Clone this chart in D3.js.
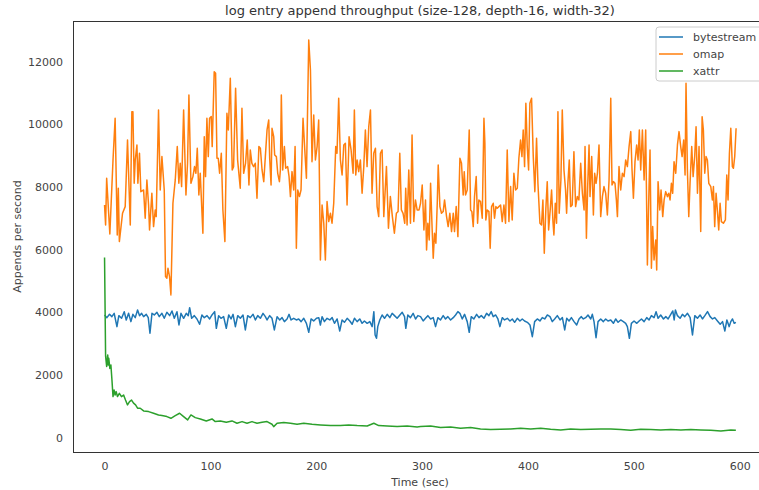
<!DOCTYPE html>
<html>
<head>
<meta charset="utf-8">
<script src="https://cdn.jsdelivr.net/npm/d3@7"></script>
<style>
  html, body { margin: 0; padding: 0; background: #fff; }
  svg { display: block; font-family: "DejaVu Sans", sans-serif; }
</style>
</head>
<body>
<div id="app"></div>
<script>
// [time (sec), appends per second]
const bytestream = [
  [0,3914],[2.2,3829],[4.7,3935],[6.9,3861],[9.1,3967],[11.7,3542],[13.5,3893],[16.1,3808],[18.6,4020],[20.5,3755],
  [22.7,3967],[24.9,3702],[26.8,3935],[29,3829],[31.2,4074],[33.1,3893],[35,3967],[36.9,3861],[39.4,3935],[41.3,3829],
  [42.9,3330],[44.8,3967],[47,3914],[49.5,3999],[51.7,3861],[54.2,3967],[56.4,3808],[58.9,3999],[61.5,3893],[63.7,4042],
  [65.9,3808],[68.4,4020],[70.3,3595],[72.2,3967],[74.7,3808],[77.2,3967],[79.1,3893],[80.4,4148],[82.3,3808],[84.8,3893],
  [87.3,3787],[89.8,3617],[92,3914],[94.2,3829],[96.8,3893],[99.3,3787],[101.5,3914],[104,4020],[105.6,3489],[107.8,3893],
  [110,3808],[112.5,3861],[115,3489],[117.3,3914],[119.5,3787],[121.4,3935],[123.6,3542],[125.8,3893],[128.3,3808],
  [130.8,3914],[133,3436],[135.2,3893],[137.7,3829],[140.3,3935],[142.5,3755],[144.7,3893],[147.2,3808],[149.7,3967],
  [151.9,3861],[153.5,3755],[156,3893],[158.2,3808],[160.4,3436],[163,3861],[165.5,3755],[167.7,3829],[169.9,3702],
  [172.4,3787],[174.3,3935],[176.2,3755],[178.7,3808],[181.2,3755],[183.4,3787],[185.7,3702],[188.2,3808],[190.7,3648],
  [192.9,3362],[195.1,3787],[197.6,3723],[200.2,3808],[202.4,3829],[203.9,3595],[205.5,3861],[207.7,3702],[210.2,3808],
  [212.8,3755],[215,3829],[217.2,3648],[219.7,3787],[222.2,3404],[224.4,3755],[226.6,3680],[229.2,3808],[231.7,3723],
  [233.9,3617],[236.1,3808],[238.6,3702],[241.1,3787],[243.3,3648],[245.5,3723],[248.1,3648],[250.6,3702],[252.8,3542],
  [254.4,4020],[255.6,3276],[256.9,3170],[258.1,3542],[260,3755],[262.2,3914],[264.5,3808],[267,3935],[269.5,3829],
  [271.7,3967],[273.9,3893],[276.4,3808],[279,3914],[281.2,3999],[283.4,3861],[284.6,3489],[286.5,3914],[289,3829],
  [291.5,3967],[293.8,3787],[296,3893],
  [298.5,3861],[301,3723],[303.2,3808],[305.4,3893],[308,3787],[310.5,3829],[312.7,3542],[314.9,3829],[317.4,3755],
  [319.9,3893],[322.1,3787],[324.3,3861],[326.9,3755],[329.4,3829],[331.6,3914],[333.8,4020],[335.7,3967],[337.9,3787],
  [340.1,3935],[342.6,3702],[344.5,3362],[346.4,3861],[348.9,3787],[351.5,3935],[353.7,3829],[355.9,3893],[358.4,3808],
  [360.9,3967],[363.1,3893],[365.3,4020],[367.2,3861],[369.4,3914],[371.6,3787],[373.5,3542],[375.7,3829],[377.9,3755],
  [380.5,3808],[383,3723],[385.2,3787],[387.4,3680],[389.9,3808],[392.4,3723],[394.6,3787],[396.8,3723],[399.4,3680],
  [401.9,3595],[404.1,3223],[406.3,3702],[408.8,3787],[411.3,3723],[413.5,3829],[415.8,3787],[418.3,3914],[420.8,3861],
  [423,3702],[425.2,3787],[427.7,3893],[430.3,3755],[432.5,3829],[434.7,3436],[436.6,3808],[438.8,3723],[441,3829],
  [443.5,3702],[446,3595],[448.2,3787],[450.4,3861],[452.3,3787],[454.5,3829],[456.7,3914],[459.3,3787],[460.8,3935],
  [462.4,3702],[464.3,3191],[466.2,3702],[468.7,3787],[471.2,3702],[473.4,3787],[475.6,3723],[478.2,3755],[480.7,3648],
  [482.9,3787],[485.1,3680],[487.6,3755],[490.1,3702],[492.3,3648],[493.9,3542],[495.8,3170],[497.7,3648],[500.2,3723],
  [502.8,3648],[505,3723],[507.2,3787],[509.7,3702],[512.2,3829],[514.4,3755],[516.6,3893],[519.1,3829],[521,4020],
  [522.9,3808],[525.4,3914],[528,3787],[530.2,3861],[532.4,3787],[534.9,3935],[536.8,4042],[538.1,3755],[539.3,4074],
  [541.2,3893],[543.7,3808],[545.9,3935],[548.1,3861],[550.7,3967],[553.2,3829],[555.4,3276],[557.6,3893],[560.1,3808],
  [562.6,3914],[564.8,3787],[567.1,3893],[569.6,4020],[572.1,3861],[574.3,3787],[576.5,3829],[579,3723],[581.6,3617],
  [583.8,3702],[586,3404],[587.9,3755],[590.1,3542],[591.6,3702],[593.2,3787],[594.8,3648],[596.4,3680]
]

const omap = [
  [0,7424],[1,6787],[2,8275],[5,6499],[8,8859],[10,10188],[12,6468],[13,7956],[14,6255],[17,7158],[19.5,7371],[21.7,9497],
  [24.3,6787],[25.8,10401],[26.8,10401],[28,8115],[29,8859],[30.6,9338],[31.5,8115],[33,9072],[34.3,7849],[36.9,7902],
  [38.4,6999],[40,8222],[41.6,7424],[42.5,6627],[44.7,7796],[46.3,6733],[47.9,7265],[48.8,7052],[51,10454],[52.6,7902],
  [54.2,8966],[56.4,7902],[57.6,5139],[58.9,5086],[59.9,5405],[61.4,5139],[62.7,4554],[64.6,7477],[66.8,8222],[68.7,9285],
  [70.2,8115],[71.5,8753],[72.8,8009],[74.7,10454],[76.9,7743],[78.4,8753],[79.7,10932],[81.6,8115],[83.5,8328],[85,8647],
  [86.3,8434],[87.6,9231],[89.1,7743],[90.4,8434],[92.9,6521],[94.2,9603],[95.4,8328],[96.7,10188],[98,8966],[99.2,10188],
  [100.8,10241],[101.7,9285],[103.6,11676],[104.9,11623],[106.2,8912],[107.4,8912],[108.7,8434],[110.3,9072],[111.8,7265],
  [113.7,6255],[115.6,10348],[116.9,9816],[118.8,11464],[120.6,8540],[121.9,8647],[123.8,11145],[125.7,8859],[128.2,7956],
  [129.8,10507],[131.4,8434],[133.2,8753],[134.8,9497],[136.4,8062],[137.7,9178],[139.2,8753],[140.8,8647],[142.4,8753],
  [144,7637],[145.8,9285],
  [147.2,9231],[148.8,8540],[150.4,8168],[151.9,8966],[153.5,9816],[155.1,10135],[156,8912],[157.3,8062],[158.2,9869],
  [159.8,9603],[160.7,9019],[162.3,8966],[163.6,8434],[165.2,8168],[166.1,8540],[167,10932],[168.3,8540],[169.9,9285],
  [171.1,8594],[173,8647],[174.3,8328],[175.6,7690],[177.1,8487],[178.7,7902],[180,9285],[181.2,6042],[182.5,7902],
  [184.1,7690],[185.6,7902],[187.5,10188],[188.8,9391],[190.7,8275],[192.9,12686],[194.5,11729],[196,8806],[197.6,10294],
  [199.2,8859],[200.8,9285],[202.3,10135],[203.9,5670],[205.5,7424],[207.1,6840],[208.6,5670],[210.2,7531],[211.8,6893],
  [213.4,7158],[214.9,6840],[216.5,7477],[218.4,9285],[219.6,9072],[221.2,10826],[222.8,8859],[224.4,8381],[226,9338],
  [227.5,9391],[229.1,7424],[231,9603],[232.9,9178],[234.8,8434],[236,10454],[237.3,8381],[238.6,8859],[240.1,8487],
  [241.7,8859],[243.3,7796],[244.9,8647],[246.4,9816],[248,8647],[249.6,9922],[251.2,10454],[252.7,7796],[254.3,9072],
  [255.9,9231],[257.5,7371],[259,7052],[260.6,9072],[262.2,9178],[263.8,7052],[266.3,8647],[268.2,6680],[270,7690],
  [271.9,7052],[273.8,6521],[275.7,7158],[277.3,7212],[278.9,9072],[280.4,7265],[282,7158],[283.6,6840],[284.5,7956],
  [285.8,6787],[287.4,8540],[289,6840],[290.5,9657],[292.1,6893],[293.7,7584],[295.3,7265],[297.1,7265],
  [298.5,7477],[300.1,8062],[301.7,6627],[303.2,7584],[304.2,5989],[305.4,6840],[306.7,6308],[308,8115],[309.5,6627],
  [310.5,5723],[311.7,6521],[313,6202],[314.3,7477],[315.2,8700],[316.8,7371],[318.3,7158],[319.9,7212],[321.2,7584],
  [323.1,7052],[324.6,6733],[326.2,7158],[327.8,6574],[329.4,7158],[330.6,6574],[332.2,7371],[333.8,6414],[335.7,8912],
  [337.2,8753],[338.8,7743],[339.8,8487],[341,7743],[342.6,7902],[344.5,9816],[345.8,7265],[347,7212],[348.3,6733],
  [349.5,7690],[351.1,8328],[352.4,6840],[353.6,7584],[355.2,7531],[356.8,6999],[358.4,10188],[359.3,9391],[360.2,6946],
  [361.5,7265],[363.1,7212],[364.3,6042],[365.6,7371],[367.2,7477],[368.4,6999],[369.7,7371],[371,7318],[372.5,7371],
  [374.1,7424],[375.7,6893],[377.3,7424],[378.8,6840],[380.4,9178],[382,6893],[383.6,8009],[385.1,6946],[386.7,8434],
  [388.3,7902],[389.9,7956],[391.4,8912],[393,9497],[394.3,8966],[395.5,9816],[396.8,8647],[398,10666],[399.3,9285],
  [400.6,8540],[401.8,10666],[403.4,10826],[405,8966],[406.5,7849],[408.1,9550],[409.4,8115],[411.3,6840],[412.8,6787],
  [414.1,7584],[415.4,5883],[416.9,7318],[418.2,8168],[419.5,6627],[421,7265],[422.3,7902],[423.6,6893],[424.5,6468],
  [425.8,7477],[427,6840],[428.3,10401],[429.5,7158],[431.1,8222],[432.4,10454],[434,8540],[435.5,7902],[436.5,7158],
  [437.7,8115],[439,8859],[440.3,7371],[441.8,7424],[443.4,9125],[445,7371],[446.6,7690],[448.1,7584],
  [449.8,8753],[451.4,7796],[453,7265],[453.9,9285],[455.2,6361],[456.4,8009],[457.7,9338],[458.6,7690],[460.2,8966],
  [461.8,7105],[463,8434],[464.3,8115],[465.6,8434],[467.1,9338],[468.7,7052],[470.3,7690],[471.8,8009],[473.4,7796],
  [475,7105],[476.6,8222],[478.2,10826],[479.4,8062],[480.7,8168],[482.2,8115],[483.5,7584],[484.5,7052],[486,8647],
  [487.6,7902],[489.2,8434],[490.8,8328],[492.3,8859],[493.9,8647],[495.5,9285],[497.1,9763],[498.3,8540],[499.6,7637],
  [501.1,8806],[502.7,9338],[504,8859],[505.2,9816],[506.5,8540],[508.1,9816],[509.7,8222],[511.2,9816],[512.8,5511],
  [514.4,8062],[515.3,9178],[516.6,5405],[517.8,6733],[519.1,5670],[520.7,6308],[521.6,5351],[522.9,8168],[524.5,7265],
  [525.7,7902],[527.3,7052],[528.6,7584],[530.1,7849],[531.7,7690],[533,7796],[534.2,7584],[535.5,8115],[536.7,7796],
  [538,8806],[539.6,8434],[541.2,9338],[542.7,9763],[544.3,9285],[545.6,8966],[547.1,9497],[548.4,8381],[549.3,11304],
  [550.6,8540],[551.9,7052],[553.1,8115],[554.7,9285],[556,8328],[557.5,8966],[558.8,9922],[560.1,7796],[561.6,9285],
  [563.2,6574],[564.5,10241],[565.7,9816],[567,8434],[568.2,8966],[569.5,8859],[570.8,8115],[572.7,8009],[574.2,7584],
  [575.2,8009],[576.4,6733],[577.7,7796],[579,7212],[580.2,6627],[581.5,7477],[582.7,6893],[584.6,6840],[586.5,6946],
  [587.8,8381],[589,7584],[590.3,9072],[591.6,9869],[593.1,8647],[594.1,8594],[595.3,8966],[596.6,9869]
]

const xattr = [
  [0,5750],[1,2600],[2,2270],[3,2640],[3.5,2320],[4,2530],[5,2210],[6,2320],[7,1842],[8,1310],[9,1520],[10,1360],
  [11,1470],[12.2,1310],[14,1415],[16,1310],[18,1360],[19.8,1200],[21.7,1045],[23.6,1150],[25.5,1200],[27.4,1100],
  [29.3,1045],[31.2,940],[33.7,938],[36.9,853],[41.6,832],[46.3,778],[51,725],[54.2,704],[58.9,672],[62.7,619],
  [66.8,704],[70.9,778],[74.7,672],[78.5,566],[81.6,725],[85.7,640],[90.5,598],[96.1,534],[101.5,598],[104.6,513],
  [109.4,534],[115,491],[120.4,534],[125.1,459],[129.9,513],[134.6,459],[139.3,513],[144,459],[148.8,491],[153.5,513],
  [158.2,428],[159.8,353],[163,459],[169.3,481],[175.6,459],[181.9,428],[188.2,459],[196,428],[204,406],[213.4,385],
  [222.8,385],[230.7,406],[238.6,385],[248.1,374],[254.4,459],[259,385],[267,374],[276.4,353],[285.9,374],[295.3,343],
  [298.5,353],[308,374],[317.4,321],[326.9,343],[336.3,300],[345.8,321],[355.2,279],[364.7,258],[374.1,268],[383.6,279],
  [393.1,300],[402.5,279],[412,300],[421.4,268],[430.9,247],[440.3,279],[449.8,258],[459.3,268],[468.7,279],[478.2,279],
  [487.6,258],[497.1,236],[506.5,268],[516,258],[525.4,247],[534.9,258],[544.4,247],[553.8,258],[563.3,247],[572.7,236],
  [582.2,215],[591.6,247],[596.4,236]
]

const seriesNames = ['bytestream', 'omap', 'xattr']
const seriesColors = ['#1f77b4', '#ff7f0e', '#2ca02c']
const xTicks = [0, 100, 200, 300, 400, 500, 600]
const yTicks = [0, 2000, 4000, 6000, 8000, 10000, 12000]

const width = 759, height = 490
const margin = {top: 21, right: -8, bottom: 38, left: 73}   // right spine falls just outside the picture

const svg = d3.select('#app').append('svg')
    .attr('width', width)
    .attr('height', height)

const x = d3.scaleLinear()
    .domain([-29.8, 625.8])
    .range([margin.left, width - margin.right])
const y = d3.scaleLinear()
    .domain([-457, 13292])
    .range([height - margin.bottom, margin.top])

svg.append('clipPath').attr('id', 'plot-clip')
    .append('rect')
    .attr('x', margin.left).attr('y', margin.top)
    .attr('width', x.range()[1] - margin.left)
    .attr('height', y.range()[0] - margin.top)

const line = d3.line()
    .x(d => x(d[0]))
    .y(d => y(d[1]))

svg.append('g')
    .attr('clip-path', 'url(#plot-clip)')
    .selectAll('path')
    .data([bytestream, omap, xattr])
    .join('path')
    .attr('d', line)
    .attr('fill', 'none')
    .attr('stroke', (d, i) => seriesColors[i])
    .attr('stroke-width', 1.5)
    .attr('stroke-linejoin', 'round')

// axes: labels only, no tick marks
const xAxis = svg.append('g')
    .attr('transform', `translate(0,${y.range()[0]})`)
    .call(d3.axisBottom(x).tickValues(xTicks).tickSize(0).tickPadding(10))
const yAxis = svg.append('g')
    .attr('transform', `translate(${margin.left},0)`)
    .call(d3.axisLeft(y).tickValues(yTicks).tickSize(0).tickPadding(10).tickFormat(d3.format('d')))

for (const ax of [xAxis, yAxis]) {
    ax.select('.domain').remove()
    ax.selectAll('text')
        .attr('fill', '#444')
        .attr('font-size', 11)
        .attr('font-family', '"DejaVu Sans", sans-serif')
}

// frame
svg.append('rect')
    .attr('x', margin.left).attr('y', margin.top)
    .attr('width', x.range()[1] - margin.left)
    .attr('height', y.range()[0] - margin.top)
    .attr('fill', 'none')
    .attr('stroke', '#333')
    .attr('stroke-width', 1)
    .attr('shape-rendering', 'crispEdges')

svg.append('text')
    .attr('x', 420).attr('y', 15)
    .attr('text-anchor', 'middle')
    .attr('font-size', 13)
    .attr('fill', '#333')
    .text('log entry append throughput (size-128, depth-16, width-32)')

svg.append('text')
    .attr('x', 420).attr('y', 486)
    .attr('text-anchor', 'middle')
    .attr('font-size', 11)
    .attr('fill', '#444')
    .text('Time (sec)')

svg.append('text')
    .attr('transform', `translate(21,${(margin.top + y.range()[0]) / 2}) rotate(-90)`)
    .attr('text-anchor', 'middle')
    .attr('font-size', 11)
    .attr('fill', '#444')
    .text('Appends per second')

// legend
const legend = svg.append('g').attr('transform', 'translate(656,27)')
legend.append('rect')
    .attr('width', 108).attr('height', 54)
    .attr('rx', 3)
    .attr('fill', '#fff').attr('fill-opacity', 0.8)
    .attr('stroke', '#ccc')
const item = legend.selectAll('g.item')
    .data(seriesNames)
    .join('g')
    .attr('class', 'item')
    .attr('transform', (d, i) => `translate(0,${10 + i * 17})`)
item.append('line')
    .attr('x1', 3).attr('x2', 27)
    .attr('stroke', (d, i) => seriesColors[i])
    .attr('stroke-width', 1.5)
item.append('text')
    .attr('x', 37).attr('dy', '0.35em')
    .attr('font-size', 11)
    .attr('fill', '#444')
    .text(d => d)
</script>
</body>
</html>
